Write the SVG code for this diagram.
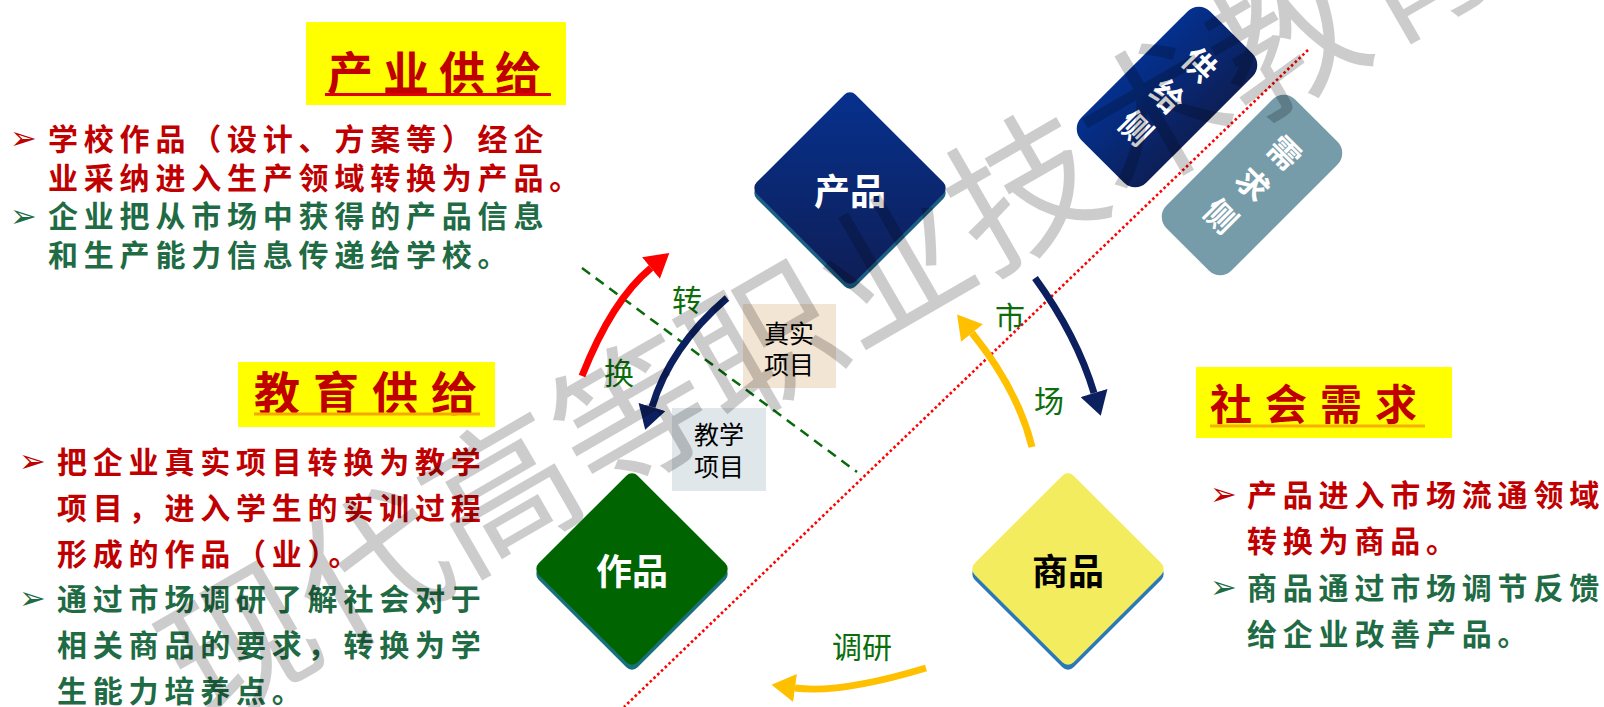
<svg xmlns="http://www.w3.org/2000/svg" width="1604" height="707" viewBox="0 0 1604 707">
<style>
.cjk{font-family:'Noto Sans CJK SC','Noto Sans',sans-serif}
.ttl{font-weight:700;fill:#c00000}
.b{font-weight:700;font-size:30px;letter-spacing:5.8px}
.red{fill:#c00000}
.grn{fill:#1f6b44}
.bul{font-family:'DejaVu Sans',sans-serif;font-size:32px}
.lbl{font-size:30px;fill:#0b6e0b;text-anchor:middle}
.box{font-size:25px;fill:#000;text-anchor:middle}
.dt{font-weight:700;font-size:36px;text-anchor:middle}
.side{font-size:32px;font-weight:700;fill:#fff;text-anchor:middle}
.shaft{fill:none;stroke-width:7}
</style>
<defs>
<linearGradient id="gNavy" x1="0" y1="0" x2="1" y2="1">
<stop offset="0" stop-color="#06318e"/><stop offset="1" stop-color="#0f1e55"/>
</linearGradient>
<linearGradient id="gSide" x1="0" y1="0" x2="1" y2="0">
<stop offset="0" stop-color="#04308e"/><stop offset="1" stop-color="#0d1f57"/>
</linearGradient>
<marker id="hRed" markerUnits="userSpaceOnUse" markerWidth="24" markerHeight="28" refX="0" refY="13" orient="auto" viewBox="0 0 22 26"><path d="M0,0 L22,13 L0,26 z" fill="#ff0000"/></marker>
<marker id="hNavy" markerUnits="userSpaceOnUse" markerWidth="24" markerHeight="28" refX="0" refY="13" orient="auto" viewBox="0 0 22 26"><path d="M0,0 L22,13 L0,26 z" fill="#0c2060"/></marker>
<marker id="hYel" markerUnits="userSpaceOnUse" markerWidth="24" markerHeight="28" refX="0" refY="13" orient="auto" viewBox="0 0 22 26"><path d="M0,0 L22,13 L0,26 z" fill="#ffc000"/></marker>
</defs>
<rect width="1604" height="707" fill="#fff"/>

<g id="panel-industry">
<rect x="306" y="22" width="260" height="83" fill="#ffff00"/>
<text class="cjk ttl" x="327" y="90" font-size="46" letter-spacing="10">产业供给</text>
<line x1="325" y1="94.5" x2="551" y2="94.5" stroke="#e00000" stroke-width="3"/>
<text class="bul red" x="10" y="149">➢</text>
<text class="cjk b red" x="48" y="150">学校作品（设计、方案等）经企</text>
<text class="cjk b red" x="48" y="189">业采纳进入生产领域转换为产品。</text>
<text class="bul grn" x="10" y="227">➢</text>
<text class="cjk b grn" x="48" y="227">企业把从市场中获得的产品信息</text>
<text class="cjk b grn" x="48" y="266">和生产能力信息传递给学校。</text>
</g>

<g id="panel-education">
<rect x="238" y="362" width="257" height="65" fill="#ffff00"/>
<text class="cjk ttl" x="254" y="410" font-size="46" letter-spacing="13">教育供给</text>
<line x1="254" y1="414" x2="480" y2="414" stroke="#f5a800" stroke-width="3"/>
<text class="bul red" x="19" y="472">➢</text>
<text class="cjk b red" x="57" y="473">把企业真实项目转换为教学</text>
<text class="cjk b red" x="57" y="519">项目，进入学生的实训过程</text>
<text class="cjk b red" x="57" y="565">形成的作品（业）。</text>
<text class="bul grn" x="19" y="609">➢</text>
<text class="cjk b grn" x="57" y="610">通过市场调研了解社会对于</text>
<text class="cjk b grn" x="57" y="656">相关商品的要求，转换为学</text>
<text class="cjk b grn" x="57" y="702">生能力培养点。</text>
</g>

<g id="panel-society">
<rect x="1196" y="367" width="256" height="71" fill="#ffff00"/>
<text class="cjk ttl" x="1210" y="420" font-size="42" letter-spacing="13">社会需求</text>
<line x1="1210" y1="426" x2="1425" y2="426" stroke="#f5b000" stroke-width="3"/>
<text class="bul red" x="1210" y="505">➢</text>
<text class="cjk b red" x="1247" y="506">产品进入市场流通领域</text>
<text class="cjk b red" x="1247" y="552">转换为商品。</text>
<text class="bul grn" x="1210" y="598">➢</text>
<text class="cjk b grn" x="1247" y="599">商品通过市场调节反馈</text>
<text class="cjk b grn" x="1247" y="645">给企业改善产品。</text>
</g>

<g id="connectors">
<line id="divider" x1="1308" y1="50" x2="624" y2="707" stroke="#ff0000" stroke-width="2.6" stroke-dasharray="2.6 2.6"/>
<line id="transform-line" x1="582" y1="268" x2="857" y2="472" stroke="#0a6a0a" stroke-width="2.5" stroke-dasharray="10 7"/>
<path id="arrow-up-red" class="shaft" d="M582,376 Q612,300 651,268" stroke="#ff0000" marker-end="url(#hRed)"/>
<path id="arrow-down-navy" class="shaft" d="M727,298 Q670,347 652,407" stroke="#0c2060" marker-end="url(#hNavy)"/>
<path id="arrow-market-up" class="shaft" d="M1032,447 Q1018,390 972,333" stroke="#ffc000" marker-end="url(#hYel)"/>
<path id="arrow-market-down" class="shaft" d="M1035,278 Q1077,336 1094,393" stroke="#0c2060" marker-end="url(#hNavy)"/>
<path id="arrow-research" class="shaft" d="M926,668 Q840,694 795,688" stroke="#ffc000" marker-end="url(#hYel)"/>
<text class="cjk lbl" x="687" y="311">转</text>
<text class="cjk lbl" x="619" y="384">换</text>
<text class="cjk lbl" x="1010" y="328">市</text>
<text class="cjk lbl" x="1049" y="412">场</text>
<text class="cjk lbl" x="862" y="658" font-size="31">调研</text>
</g>

<g id="real-project">
<rect x="743" y="304" width="93" height="84" fill="#f3e5d3"/>
<text class="cjk box" x="789" y="343">真实</text>
<text class="cjk box" x="789" y="374">项目</text>
</g>
<g id="teaching-project">
<rect x="672" y="408" width="94" height="83" fill="#dfe7ea"/>
<text class="cjk box" x="719" y="444">教学</text>
<text class="cjk box" x="719" y="476">项目</text>
</g>

<g id="node-product" transform="translate(850,188)">
<rect x="-70" y="-70" width="140" height="140" rx="8" transform="translate(0,5) rotate(45)" fill="#1b5f86"/>
<rect x="-70" y="-70" width="140" height="140" rx="8" transform="rotate(45)" fill="url(#gNavy)"/>
<text class="cjk dt" x="0" y="17" fill="#fff">产品</text>
</g>
<g id="node-work" transform="translate(632,569)">
<rect x="-70" y="-70" width="140" height="140" rx="8" transform="translate(0,5) rotate(45)" fill="#17707a"/>
<rect x="-70" y="-70" width="140" height="140" rx="8" transform="rotate(45)" fill="#006400"/>
<text class="cjk dt" x="0" y="16" fill="#fff">作品</text>
</g>
<g id="node-goods" transform="translate(1068,569)">
<rect x="-70" y="-70" width="140" height="140" rx="8" transform="translate(0,5) rotate(45)" fill="#2b78b6"/>
<rect x="-70" y="-70" width="140" height="140" rx="8" transform="rotate(45)" fill="#f3ec5e"/>
<text class="cjk dt" x="0" y="16" fill="#000">商品</text>
</g>

<g id="supply-side" transform="translate(1167,97) rotate(45)">
<rect x="-46" y="-91" width="92" height="182" rx="16" fill="url(#gSide)"/>
<text class="cjk side" x="0" y="-34">供</text>
<text class="cjk side" x="0" y="11">给</text>
<text class="cjk side" x="0" y="56">侧</text>
</g>
<g id="demand-side" transform="translate(1252,185) rotate(45)">
<rect x="-46" y="-91" width="92" height="182" rx="16" fill="#769ca9"/>
<text class="cjk side" x="0" y="-34">需</text>
<text class="cjk side" x="0" y="11">求</text>
<text class="cjk side" x="0" y="56">侧</text>
</g>

<g id="watermark" transform="translate(830,306) rotate(-30)">
<text class="cjk" x="0" y="52" font-size="150" letter-spacing="1" text-anchor="middle" fill="#000" fill-opacity="0.2">现代高等职业技术教育</text>
</g>
</svg>
